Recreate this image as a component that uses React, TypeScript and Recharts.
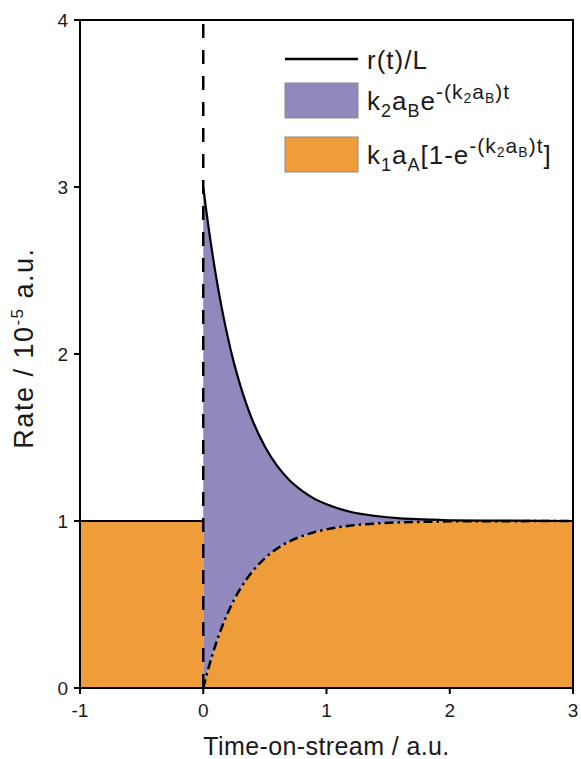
import {
  Area,
  ComposedChart,
  Label,
  Line,
  XAxis,
  YAxis,
  ReferenceLine
} from "recharts";

// time-on-stream samples after the switch at t = 0
const tSteps = [
  0, 0.025, 0.05, 0.075, 0.1, 0.15, 0.2, 0.25, 0.3, 0.35, 0.4, 0.5, 0.6, 0.7,
  0.8, 0.9, 1.0, 1.2, 1.4, 1.6, 1.8, 2.0, 2.5, 3.0
];
// k1aA[1 - e^-(k2aB)t]
const growTerm = [
  0, 0.072, 0.139, 0.201, 0.259, 0.362, 0.451, 0.528, 0.593, 0.65, 0.699,
  0.777, 0.835, 0.878, 0.909, 0.933, 0.95, 0.973, 0.985, 0.992, 0.995, 0.998,
  0.999, 1.0
];
// k2aB e^-(k2aB)t
const decayTerm = [
  3.0, 2.784, 2.583, 2.397, 2.223, 1.914, 1.647, 1.416, 1.221, 1.05, 0.903,
  0.669, 0.495, 0.366, 0.273, 0.201, 0.15, 0.081, 0.045, 0.024, 0.015, 0.006,
  0.003, 0.0
];
// r(t)/L
const rateTotal = [
  3.0, 2.856, 2.722, 2.598, 2.482, 2.276, 2.098, 1.944, 1.814, 1.7, 1.602,
  1.446, 1.33, 1.244, 1.182, 1.134, 1.1, 1.054, 1.03, 1.016, 1.01, 1.004,
  1.002, 1.0
];
// steady rate before t = 0
const preT = [-1, 0];
const preRate = [1, 1];

const xTicks = [-1, 0, 1, 2, 3];
const yTicks = [0, 1, 2, 3, 4];

const PURPLE = "#9189BE";
const ORANGE = "#EF9C3B";
const INK = "#1a1a1a";
const FONT = "'Liberation Sans', Arial, sans-serif";

// plot box, shared by the chart margins and the frame overlay
const W = 581;
const H = 759;
const LEFT = 80;
const TOP = 20;
const RIGHT = 8;
const X_AXIS_H = 71;

const rows = tSteps.map((t, i) => ({
  t,
  grow: growTerm[i],
  decay: decayTerm[i],
  rate: rateTotal[i]
}));
const preRows = preT.map((t, i) => ({ t, rate: preRate[i] }));

const tickStyle = { fontSize: 19, fill: INK, fontFamily: FONT };
const axisStroke = { stroke: "#000", strokeWidth: 2 };

const YTitle = () => (
  <text
    transform="translate(33,348) rotate(-90)"
    textAnchor="middle"
    fontSize={27}
    letterSpacing={1.5}
    fill={INK}
    fontFamily={FONT}
  >
    Rate / 10
    <tspan dy={-10} fontSize={17}>
      -5
    </tspan>
    <tspan dy={10}> a.u.</tspan>
  </text>
);

// exponent -(k2aB)t shared by both formula entries
const Exponent = () => (
  <>
    <tspan fontSize={21} dy={-11}>-(k</tspan>
    <tspan fontSize={14} dy={4}>2</tspan>
    <tspan fontSize={21} dy={-4}>a</tspan>
    <tspan fontSize={14} dy={4}>B</tspan>
    <tspan fontSize={21} dy={-4}>)t</tspan>
  </>
);

const Overlay = () => (
  <svg
    width={W}
    height={H}
    style={{ position: "absolute", left: 0, top: 0, pointerEvents: "none" }}
  >
    {/* closed frame around the plot */}
    <rect
      x={LEFT}
      y={TOP}
      width={W - LEFT - RIGHT}
      height={H - X_AXIS_H - TOP}
      fill="none"
      stroke="#000"
      strokeWidth={2}
    />
    <g fontFamily={FONT} fill={INK} letterSpacing={1}>
      <line x1={285} x2={358} y1={59} y2={59} stroke="#000" strokeWidth={2.5} />
      <text x={367} y={69} fontSize={26}>
        r(t)/L
      </text>

      <rect x={285} y={83} width={73} height={35} fill={PURPLE} stroke="#8a8a8a" strokeWidth={1} />
      <text x={367} y={110} fontSize={26}>
        k<tspan fontSize={18} dy={7}>2</tspan>
        <tspan dy={-7}>a</tspan>
        <tspan fontSize={18} dy={7}>B</tspan>
        <tspan dy={-7}>e</tspan>
        <Exponent />
      </text>

      <rect x={285} y={137} width={73} height={35} fill={ORANGE} stroke="#8a8a8a" strokeWidth={1} />
      <text x={367} y={164} fontSize={26}>
        k<tspan fontSize={18} dy={7}>1</tspan>
        <tspan dy={-7}>a</tspan>
        <tspan fontSize={18} dy={7}>A</tspan>
        <tspan dy={-7}>[1-e</tspan>
        <Exponent />
        <tspan fontSize={26} dy={11}>]</tspan>
      </text>
    </g>
  </svg>
);

export default function App() {
  return (
    <div style={{ position: "absolute", left: 0, top: 0, width: W, height: H }}>
      <ComposedChart
        width={W}
        height={H}
        data={rows}
        margin={{ top: TOP, right: RIGHT, left: LEFT - 60, bottom: 0 }}
        style={{ fontFamily: FONT }}
      >
        <XAxis
          dataKey="t"
          type="number"
          domain={[-1, 3]}
          ticks={xTicks}
          allowDataOverflow
          height={X_AXIS_H}
          axisLine={axisStroke}
          tickLine={axisStroke}
          tickSize={6}
          tickMargin={10}
          tick={tickStyle}
        >
          <Label
            value="Time-on-stream / a.u."
            position="insideBottom"
            offset={4}
            style={{ fontSize: 25, letterSpacing: 0.4, fill: INK, fontFamily: FONT }}
          />
        </XAxis>
        <YAxis
          type="number"
          domain={[0, 4]}
          ticks={yTicks}
          allowDataOverflow
          width={60}
          axisLine={axisStroke}
          tickLine={axisStroke}
          tickSize={6}
          tickMargin={6}
          tick={tickStyle}
        >
          <Label content={<YTitle />} />
        </YAxis>

        <Area
          type="monotone"
          dataKey="grow"
          stackId="r"
          stroke="none"
          fill={ORANGE}
          fillOpacity={1}
          isAnimationActive={false}
        />
        <Area
          type="monotone"
          dataKey="decay"
          stackId="r"
          stroke="none"
          fill={PURPLE}
          fillOpacity={1}
          isAnimationActive={false}
        />
        <Area
          data={preRows}
          type="linear"
          dataKey="rate"
          stroke="none"
          fill={ORANGE}
          fillOpacity={1}
          baseValue={0}
          isAnimationActive={false}
        />
        <Line
          data={preRows}
          type="linear"
          dataKey="rate"
          stroke="#000"
          strokeWidth={2.2}
          dot={false}
          isAnimationActive={false}
        />
        <Line
          type="monotone"
          dataKey="rate"
          stroke="#000"
          strokeWidth={2.2}
          dot={false}
          isAnimationActive={false}
        />
        <Line
          type="monotone"
          dataKey="grow"
          stroke="#000"
          strokeWidth={2.5}
          strokeDasharray="9 4 2.5 4"
          dot={false}
          isAnimationActive={false}
        />
        <ReferenceLine x={0} stroke="#000" strokeWidth={2.5} strokeDasharray="14 12" />
      </ComposedChart>
      <Overlay />
    </div>
  );
}
